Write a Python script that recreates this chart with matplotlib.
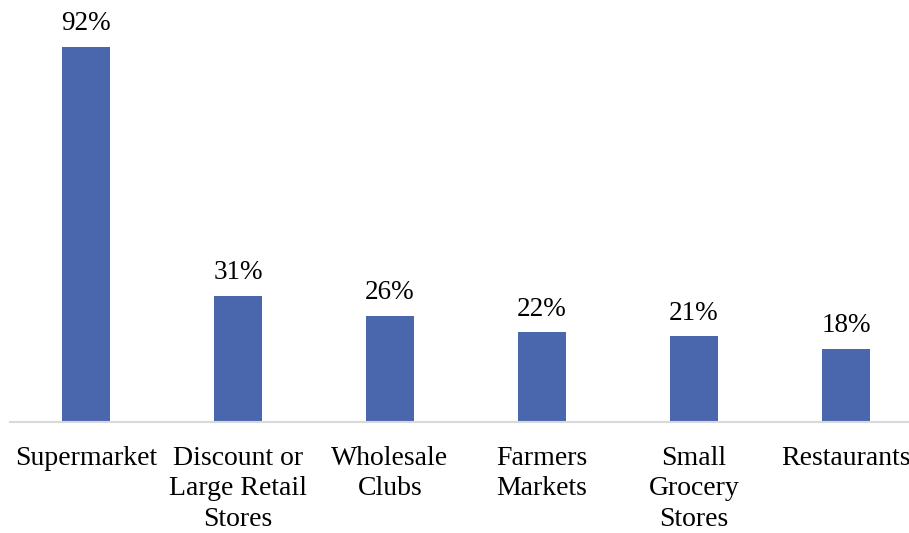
import matplotlib
matplotlib.use("Agg")
from matplotlib import pyplot as plt

categories = ["Supermarket", "Discount or\nLarge Retail\nStores", "Wholesale\nClubs",
              "Farmers\nMarkets", "Small\nGrocery\nStores", "Restaurants"]
shares = [92, 31, 26, 22, 21, 18]

plt.rcParams["font.family"] = ["Liberation Serif", "DejaVu Serif"]

fig = plt.figure(figsize=(9.09, 5.33), dpi=100)
# axes runs a bit past the right edge so the last label sits where it should
ax = fig.add_axes([10 / 909, 111 / 533, 912 / 909, 408 / 533])

x = range(len(categories))
bars = ax.bar(x, shares, width=0.315, color="#4a66ac", zorder=2)

for bar, val in zip(bars, shares):
    ax.text(bar.get_x() + bar.get_width() / 2, val + 2.6, f"{val}%",
            ha="center", va="bottom", fontsize=19.5, color="black")

ax.set_xlim(-0.5, len(categories) - 0.5)
ax.set_ylim(0, 100)
ax.set_xticks(list(x))
ax.set_xticklabels(categories, fontsize=20, linespacing=1.3, va="top")
ax.tick_params(axis="x", length=0, pad=17)
ax.set_yticks([])

for side in ["top", "right", "left"]:
    ax.spines[side].set_visible(False)
ax.spines["bottom"].set_color("#d9d9d9")
ax.spines["bottom"].set_linewidth(1.5)

fig.savefig("out.png", dpi=100)
